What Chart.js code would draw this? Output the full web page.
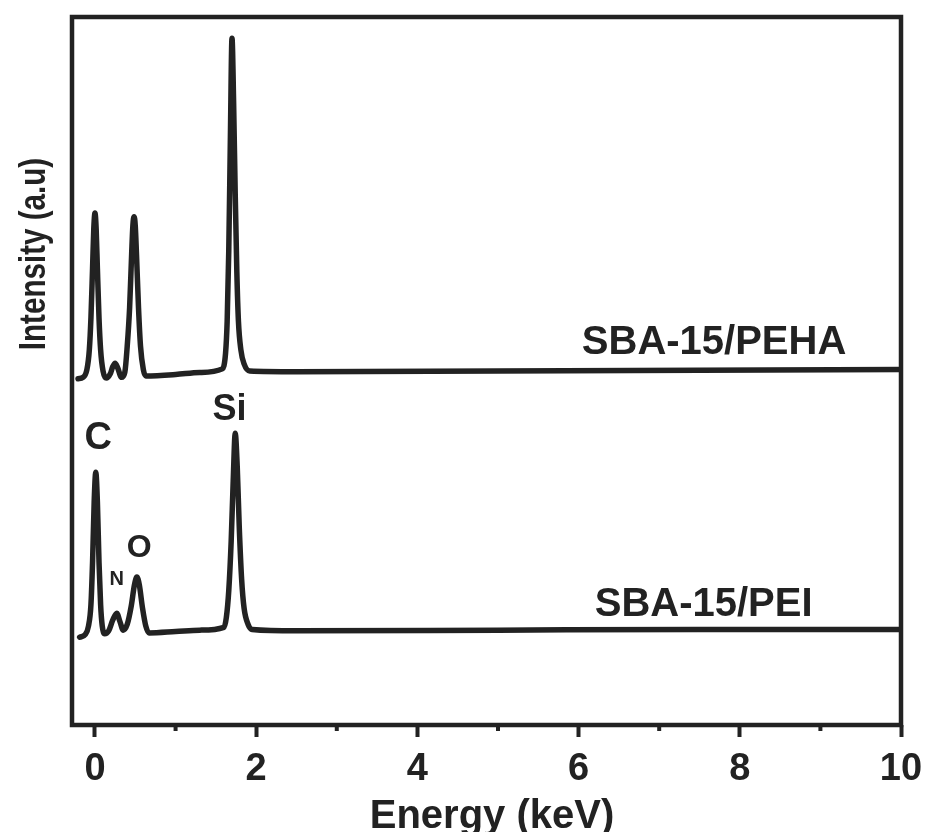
<!DOCTYPE html>
<html>
<head>
<meta charset="utf-8">
<script src="https://cdn.jsdelivr.net/npm/chart.js@4.4.1/dist/chart.umd.min.js"></script>
<style>
  html, body { margin: 0; padding: 0; background: #fff; }
  canvas { display: block; }
</style>
</head>
<body>
<canvas id="edsChart" width="928" height="832"></canvas>
<script>
// EDS spectra, energy in keV, intensity in arbitrary units
const energyPeha = [-0.21, -0.15, -0.10, -0.07, -0.05, -0.03, -0.015, 0.0, 0.015, 0.03, 0.05, 0.07, 0.10, 0.14,
  0.19, 0.22, 0.25, 0.28, 0.33, 0.37, 0.40, 0.43, 0.455, 0.47, 0.485, 0.50, 0.515, 0.54, 0.565, 0.60, 0.63,
  1.00, 1.30, 1.58, 1.62, 1.64, 1.66, 1.68, 1.70, 1.72, 1.74, 1.76, 1.78, 1.81, 1.85, 1.92, 2.50, 5.00, 7.50, 10.00];
const intensityPeha = [48.9, 49.1, 50.2, 53.0, 57.5, 64.5, 70.0, 72.3, 70.0, 64.5, 57.5, 53.0, 50.0, 49.0,
  49.6, 50.6, 51.1, 50.5, 49.1, 49.8, 53.5, 59.0, 66.5, 70.5, 71.8, 70.5, 66.5, 59.0, 53.5, 50.2, 49.3,
  49.5, 49.8, 50.3, 52.5, 57.0, 67.0, 83.0, 97.0, 88.0, 75.0, 64.0, 57.0, 53.0, 51.0, 50.0, 49.9, 50.0, 50.1, 50.2];

const energyPei = [-0.19, -0.12, -0.08, -0.05, -0.03, -0.01, 0.01, 0.03, 0.05, 0.07, 0.09, 0.12,
  0.17, 0.22, 0.27, 0.31, 0.35, 0.40, 0.45, 0.49, 0.52, 0.55, 0.59, 0.63, 0.67,
  1.00, 1.30, 1.60, 1.63, 1.66, 1.69, 1.715, 1.74, 1.765, 1.79, 1.82, 1.85, 1.90, 1.95, 2.50, 5.00, 7.50, 10.00];
const intensityPei = [12.4, 12.8, 14.0, 17.0, 23.0, 31.5, 35.7, 31.5, 23.0, 17.0, 14.0, 12.9,
  13.3, 14.8, 15.8, 14.6, 13.4, 14.2, 16.8, 19.8, 20.9, 19.8, 16.5, 14.0, 13.0,
  13.2, 13.4, 13.8, 15.2, 19.0, 26.0, 34.5, 41.2, 36.5, 28.0, 20.5, 16.5, 14.2, 13.5, 13.3, 13.4, 13.5, 13.5];

const seriesNames = ["SBA-15/PEHA", "SBA-15/PEI"];
const majorTicks = [0, 2, 4, 6, 8, 10];
const minorTicks = [1, 3, 5, 7, 9];
const elementNames = ["C", "N", "O", "Si"];

const FONT = "'Liberation Sans', Arial, sans-serif";
const INK = "#222";

// where the text sits, in axis units
const elementLabelStyle = [
  { x: 0.04, y: 40.4, size: 38 },
  { x: 0.27, y: 20.5, size: 20 },
  { x: 0.55, y: 25.0, size: 32 },
  { x: 1.67, y: 44.5, size: 36 },
];
const seriesLabelStyle = [
  { x: 6.04, y: 54.0, size: 40 },
  { x: 6.20, y: 17.0, size: 40 },
];

const toPoints = (xs, ys) => xs.map((x, i) => ({ x, y: ys[i] }));

const framePlugin = {
  id: "frame",
  afterDraw(chart) {
    const { ctx, chartArea: a, scales } = chart;
    const xs = scales.x, ys = scales.y;
    ctx.save();
    ctx.strokeStyle = INK;
    ctx.lineWidth = 4.5;
    ctx.strokeRect(a.left, a.top, a.right - a.left, a.bottom - a.top);

    // short ticks between the labelled ones
    ctx.lineWidth = 4;
    minorTicks.forEach((v) => {
      const px = xs.getPixelForValue(v);
      ctx.beginPath();
      ctx.moveTo(px, a.bottom);
      ctx.lineTo(px, a.bottom + 6);
      ctx.stroke();
    });

    ctx.fillStyle = INK;
    ctx.textBaseline = "middle";

    ctx.textAlign = "center";
    elementNames.forEach((name, i) => {
      const s = elementLabelStyle[i];
      ctx.font = `bold ${s.size}px ${FONT}`;
      ctx.fillText(name, xs.getPixelForValue(s.x), ys.getPixelForValue(s.y));
    });

    ctx.textAlign = "left";
    seriesNames.forEach((name, i) => {
      const s = seriesLabelStyle[i];
      ctx.font = `bold ${s.size}px ${FONT}`;
      ctx.fillText(name, xs.getPixelForValue(s.x), ys.getPixelForValue(s.y));
    });

    // axis titles
    ctx.textAlign = "center";
    ctx.textBaseline = "alphabetic";
    ctx.font = `bold 40px ${FONT}`;
    ctx.fillText("Energy (keV)", 492, 828);

    ctx.translate(45, 254);
    ctx.rotate(-Math.PI / 2);
    ctx.scale(0.8, 1);
    ctx.font = `bold 37px ${FONT}`;
    ctx.fillText("Intensity (a.u)", 0, 0);
    ctx.restore();
  },
};

new Chart(document.getElementById("edsChart"), {
  type: "line",
  data: {
    datasets: [
      { label: seriesNames[0], data: toPoints(energyPeha, intensityPeha) },
      { label: seriesNames[1], data: toPoints(energyPei, intensityPei) },
    ],
  },
  options: {
    responsive: false,
    animation: false,
    devicePixelRatio: 1,
    layout: { padding: { top: 17, right: 27, left: 0, bottom: 0 } },
    elements: {
      line: { borderColor: INK, borderWidth: 5.5, tension: 0.4, cubicInterpolationMode: "monotone", borderCapStyle: "round", borderJoinStyle: "round" },
      point: { radius: 0 },
    },
    plugins: { legend: { display: false }, tooltip: { enabled: false } },
    scales: {
      x: {
        type: "linear",
        min: -0.285,
        max: 10,
        afterFit: (s) => { s.height = 107; s.paddingRight = 0; },
        afterBuildTicks: (s) => { s.ticks = majorTicks.map((v) => ({ value: v })); },
        grid: { drawOnChartArea: false, tickLength: 12, tickWidth: 4, tickColor: INK },
        border: { display: false },
        ticks: { color: INK, padding: 10, maxRotation: 0, font: { family: FONT, size: 38, weight: "bold" } },
      },
      y: {
        min: 0,
        max: 100,
        afterFit: (s) => { s.width = 72; },
        grid: { display: false },
        border: { display: false },
        ticks: { display: false },
      },
    },
  },
  plugins: [framePlugin],
});
</script>
</body>
</html>
